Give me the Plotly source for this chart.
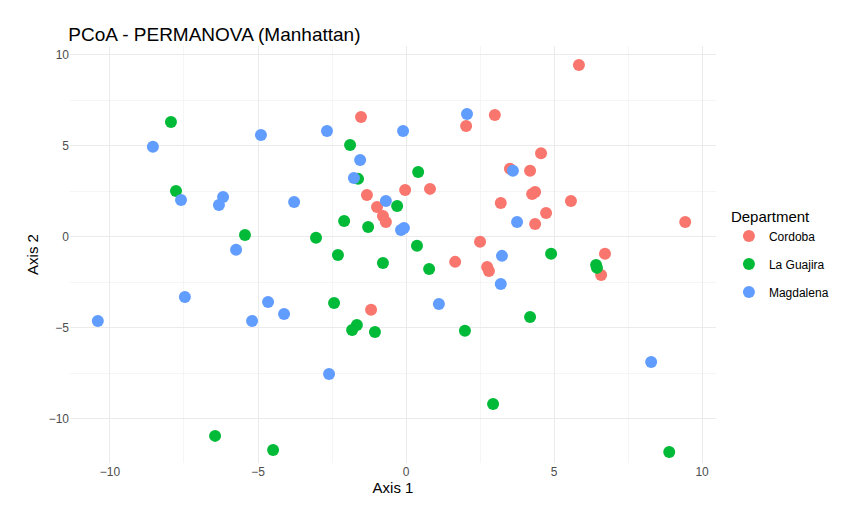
import plotly.graph_objects as go

cordoba_x = [5.84,-1.52,2.03,3.0,4.56,3.51,4.19,5.57,3.2,4.36,4.26,0.81,-0.03,-1.32,-0.98,-0.78,-0.68,4.73,4.36,9.43,2.5,6.72,6.59,1.66,2.74,2.8,-1.18]
cordoba_y = [9.45,6.59,6.1,6.7,4.6,3.74,3.63,1.98,1.87,2.47,2.36,2.64,2.58,2.3,1.65,1.15,0.82,1.32,0.71,0.82,-0.27,-0.93,-2.09,-1.37,-1.65,-1.87,-4.0]
guajira_x = [-7.94,-7.77,-1.89,-1.62,0.41,-0.3,-2.09,-1.28,-5.44,-3.04,0.37,-2.3,-0.78,0.78,4.9,6.42,6.45,-2.43,-1.66,-1.82,-1.05,1.99,4.19,2.94,-6.45,-4.49,8.89]
guajira_y = [6.32,2.53,5.05,3.19,3.57,1.7,0.88,0.55,0.11,-0.05,-0.49,-0.99,-1.43,-1.76,-0.93,-1.54,-1.7,-3.63,-4.84,-5.11,-5.22,-5.16,-4.4,-9.18,-10.93,-11.7,-11.81]
magd_x = [-8.55,-4.9,-2.67,2.06,-0.1,-1.55,-1.76,3.61,-7.6,-6.18,-6.32,-3.78,-0.68,-0.17,-0.07,3.75,-5.74,3.24,3.2,-7.47,-4.66,1.11,-4.12,-10.41,-5.2,-2.6,8.28]
magd_y = [4.95,5.6,5.82,6.76,5.82,4.23,3.24,3.63,2.03,2.2,1.76,1.92,1.98,0.38,0.49,0.82,-0.71,-1.04,-2.58,-3.3,-3.57,-3.68,-4.23,-4.62,-4.62,-7.53,-6.87]

series = [("Cordoba", cordoba_x, cordoba_y, "#F8766D"),
          ("La Guajira", guajira_x, guajira_y, "#00BA38"),
          ("Magdalena", magd_x, magd_y, "#619CFF")]

fig = go.Figure()
for name, xs, ys, c in series:
    fig.add_trace(go.Scatter(x=xs, y=ys, mode="markers", name=name, legendgroup=name,
                             marker=dict(color=c, size=12, line=dict(width=0))))

grid = "#EBEBEB"
fig.update_layout(
    width=862, height=520, plot_bgcolor="white", paper_bgcolor="white",
    font=dict(family="Liberation Sans, Arial", color="#4D4D4D", size=12),
    title=dict(text="PCoA - PERMANOVA (Manhattan)", x=0.07, xanchor="left", y=0.962,
               font=dict(size=19, color="black")),
    margin=dict(l=62, r=154, t=38, b=65, autoexpand=False),
    legend=dict(title=dict(text="Department", font=dict(size=15, color="black")),
                font=dict(size=12, color="black"), x=1.02, y=0.5, yanchor="middle",
                itemsizing="constant", tracegroupgap=9),
)
fig.update_xaxes(range=[-11.35, 10.47], tickvals=[-10,-5,0,5,10], showgrid=True, gridcolor=grid,
                 minor=dict(tickvals=[-7.5,-2.5,2.5,7.5], showgrid=True, gridcolor="#F5F5F5"),
                 zeroline=False, showline=False, ticks="", automargin=False,
                 title=dict(text="Axis 1", font=dict(size=15, color="black"), standoff=4))
fig.update_yaxes(range=[-12.42, 10.49], tickvals=[-10,-5,0,5,10], showgrid=True, gridcolor=grid,
                 minor=dict(tickvals=[-12.5,-7.5,-2.5,2.5,7.5], showgrid=True, gridcolor="#F5F5F5"),
                 zeroline=False, showline=False, ticks="", automargin=False,
                 title=dict(text="Axis 2", font=dict(size=15, color="black"), standoff=6))
fig.write_html("out.html")
